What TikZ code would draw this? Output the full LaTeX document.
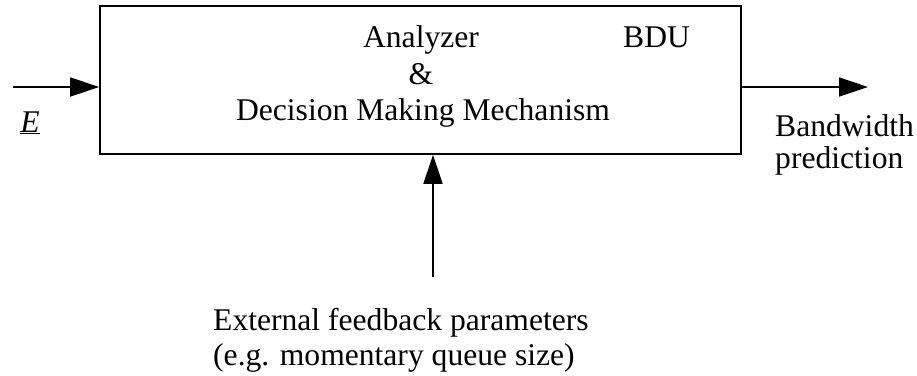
\documentclass[tikz,border=0pt]{standalone}
\usepackage{fontspec}
\setmainfont{Liberation Serif}
\usetikzlibrary{arrows.meta}
\begin{document}
\begin{tikzpicture}[x=1pt,y=-1pt,
  lbl/.style={font=\fontsize{31.6}{36}\selectfont, inner sep=0pt, anchor=base},
  lbll/.style={lbl, anchor=base west},
  flow/.style={line width=1.6pt, -{Triangle[length=29pt,width=19pt]}},
  unit/.style={draw, line width=1.6pt, minimum width=641pt, minimum height=148pt, inner sep=0pt}]
\useasboundingbox (0,0) rectangle (917,375);
% processing block
\node[unit] (bdu) at (420.5,80) {};
\node[lbl] (t1) at (421,47) {Analyzer};
\node[lbl] (t2) at (421,84) {\&};
\node[lbl] (t3) at (423,120) {Decision Making Mechanism};
\node[lbll] (tag) at (623,47) {BDU};
% input
\coordinate (in) at (13,87);
\draw[flow] (in) -- (bdu.west |- in);
\node[lbl] (e) at (30,132) {\underline{\textit{E}}};
% output
\coordinate (out) at (868,87);
\draw[flow] (bdu.east |- out) -- (out);
\node[lbll] (o1) at (775,136) {Bandwidth};
\node[lbll] (o2) at (775,168) {prediction};
% feedback
\coordinate (fb) at (433,277);
\draw[flow] (fb) -- (fb |- bdu.south);
\node[lbll] (f1) at (213,330) {External feedback parameters};
\node[lbll] (f2) at (213,365) {(e.g. momentary queue size)};
\end{tikzpicture}
\end{document}
